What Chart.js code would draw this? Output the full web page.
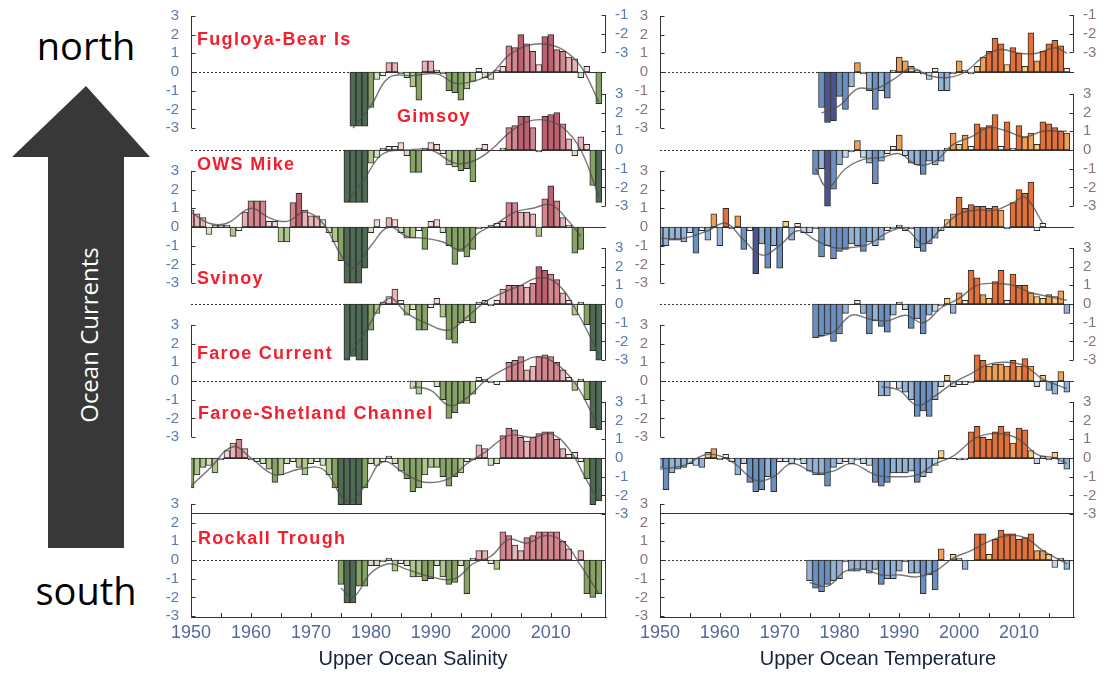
<!DOCTYPE html>
<html>
<head>
<meta charset="utf-8">
<script src="https://cdn.jsdelivr.net/npm/chart.js@4.4.1/dist/chart.umd.min.js"></script>
<style>
  body { margin: 0; background: #fff; width: 1114px; height: 677px; overflow: hidden; position: relative; }
  .abs { position: absolute; }
  #arrow { left: 12px; top: 86px; width: 138px; height: 462px; background: #383838;
    clip-path: polygon(74px 0, 138px 71px, 112px 71px, 112px 462px, 36px 462px, 36px 71px, 0 71px); }
  .big { font-family: 'Open Sans', sans-serif; font-size: 38px; color: #000; width: 172px; text-align: center; left: 0; line-height: 40px; }
  #current { left: 88px; top: 335px; transform: translate(-50%, -50%) rotate(-90deg); color: #fff;
    font-family: 'Open Sans', sans-serif; font-size: 24px; white-space: nowrap; }
  .xtitle { font-family: 'Liberation Sans', Arial, sans-serif; font-size: 20px; color: #16213d; top: 647px;
    transform: translateX(-50%); white-space: nowrap; }
</style>
</head>
<body>
<div class="abs big" style="top:25px">north</div>
<div id="arrow" class="abs"></div>
<div id="current" class="abs">Ocean Currents</div>
<div class="abs big" style="top:570px">south</div>
<canvas id="sal" class="abs" width="480" height="677" style="left:150px;top:0"></canvas>
<canvas id="tmp" class="abs" width="484" height="677" style="left:630px;top:0"></canvas>
<div class="abs xtitle" style="left:413px">Upper Ocean Salinity</div>
<div class="abs xtitle" style="left:878px">Upper Ocean Temperature</div>
<script>
const seriesNames = ['Fugloya-Bear Is', 'Gimsoy', 'OWS Mike', 'Svinoy', 'Faroe Current', 'Faroe-Shetland Channel', 'Rockall Trough'];
const startYears = [1977, 1976, 1950, 1976, 1987, 1950, 1975];
const xTickYears = [1950, 1960, 1970, 1980, 1990, 2000, 2010];
const yTickValues = [3, 2, 1, 0, -1, -2, -3];
const topStubTicks = [-1, -2, -3];

// salinity anomalies, one value per year from startYears
const salFugloya = [-2.9,-2.9,-2.9,-1.9,-0.4,-0.2,0.5,0.5,-0.1,-0.3,-0.8,-1.5,0.6,0.6,0.1,-0.1,-1.0,-1.1,-1.5,-0.9,-0.5,0.2,-0.3,-0.4,0.1,0.3,1.4,1.3,2.0,1.5,1.1,0.4,1.9,2.0,1.2,1.1,0.8,0.7,-0.3,0.3,0.0,-1.7];
const salGimsoy = [-2.8,-2.8,-2.8,-2.8,-0.7,-0.4,0.1,0.2,0.2,0.4,-0.3,-1.2,-1.2,0.1,0.4,0.3,-0.2,-0.8,-0.9,-1.1,-1.0,-1.7,0.1,0.3,0.0,0.0,0.1,1.2,1.3,1.8,1.8,1.2,-0.1,1.8,1.9,2.0,1.4,0.6,-0.3,0.7,0.3,-1.9,-2.8];
const salOWS = [0.9,0.7,0.5,-0.4,0.1,0.1,0.1,-0.5,-0.2,0.8,
  1.4,1.4,1.4,0.3,0.3,-0.8,-0.8,1.3,1.8,0.9,
  0.6,0.6,0.4,-0.3,-0.8,-1.8,-3.0,-3.0,-3.0,-2.2,
  -0.3,0.4,0.0,0.5,0.4,-0.3,-0.6,-0.6,-0.2,-1.2,
  0.3,0.4,-0.3,-1.0,-2.0,-1.3,-1.6,-1.2,-0.1,0.0,
  0.1,0.2,0.3,1.3,1.3,0.8,0.8,0.7,-0.5,1.5,
  2.2,1.4,0.5,0.1,-1.4,-1.2];
const salSvinoy = [-3.0,-2.8,-3.0,-3.0,-1.4,-0.5,0.1,0.4,0.8,0.2,-0.6,-0.3,-1.4,-1.4,-0.2,0.3,-0.7,-1.9,-2.1,-1.0,-0.9,-1.0,0.1,0.2,-0.1,0.2,0.8,1.0,1.0,1.0,0.9,1.1,2.0,1.8,1.6,1.3,0.6,0.2,-0.6,0.1,-1.1,-2.5,-3.0];
const salFaroe = [-0.4,-0.7,0.0,0.0,-0.3,-1.0,-2.0,-1.7,-1.2,-1.2,-0.7,0.2,0.1,-0.1,-0.2,0.0,1.0,1.1,1.3,0.6,0.8,1.3,1.4,1.3,1.0,0.6,0.2,-0.5,0.1,-1.0,-2.5,-2.6];
const salFSC = [-1.6,-0.9,-0.5,-0.4,-0.8,-0.1,0.4,0.8,1.0,0.5,
  -0.1,-0.2,-0.3,-0.6,-1.3,-0.9,-0.3,-0.2,-0.5,-0.9,
  -0.3,-0.2,-0.4,-0.9,-1.6,-2.5,-2.5,-2.5,-2.5,-1.6,
  -0.3,-0.4,-0.2,0.1,-0.3,-0.7,-1.1,-1.8,-1.6,-0.9,
  -0.5,-0.5,-1.0,-1.5,-1.0,-0.8,-0.2,-0.1,0.7,0.5,
  -0.4,-0.3,1.2,1.6,1.5,1.1,0.9,1.1,1.3,1.4,
  1.4,1.0,0.5,0.2,0.3,-0.2,-1.1,-2.5,-2.3];
const salRockall = [-1.3,-2.3,-2.3,-1.4,-1.4,-0.3,-0.3,-0.1,0.1,-0.6,-0.2,-0.3,-0.9,-0.9,-1.1,-1.0,-0.3,-0.9,-1.3,-1.2,-0.3,-1.8,0.1,0.5,0.5,-0.2,-0.5,1.5,1.3,0.8,0.5,1.2,1.3,1.5,1.5,1.5,1.5,1.0,0.6,0.0,0.5,-1.8,-2.0,-1.8];

// temperature anomalies
const tmpFugloya = [-1.9,-2.7,-2.6,-1.3,-2.0,-0.8,0.5,-0.1,-1.0,-2.0,-1.0,-1.4,0.1,0.8,0.6,0.3,0.1,-0.1,-0.4,0.2,-1.0,-1.0,-0.1,0.6,0.1,-0.1,0.3,0.8,1.1,1.8,1.5,0.4,1.3,1.0,0.3,2.1,0.6,1.1,1.5,1.7,1.4,0.2];
const tmpGimsoy = [-1.3,-1.0,-3.0,-2.1,-0.8,-0.4,-0.1,0.5,-0.4,-0.7,-1.8,-0.6,-0.2,0.2,0.8,-0.3,-0.7,-0.8,-1.3,-0.6,-0.8,-0.6,0.1,0.9,0.3,0.8,0.2,1.4,1.2,1.3,1.9,0.2,1.5,0.1,1.3,0.7,0.9,0.3,1.5,1.4,1.2,1.0,0.9];
const tmpOWS = [-1.0,-1.0,-0.7,-0.7,-0.8,-0.3,-1.4,-0.2,-0.7,0.7,
  -1.0,1.0,-0.1,0.6,-1.2,-0.2,-2.5,-0.9,-2.2,-1.0,
  -2.2,0.3,-0.7,0.2,-0.3,-0.3,-0.1,-1.6,-1.0,-1.7,
  -1.3,-1.2,-0.9,-1.0,-1.3,-0.8,-1.0,-0.7,-0.2,-0.1,
  0.1,-0.2,-0.1,-1.1,-1.3,-0.9,-0.6,-0.2,0.4,0.7,
  1.6,1.0,1.2,1.1,1.1,1.0,1.1,0.9,-0.1,1.3,
  2.0,1.8,2.4,-0.2,0.2];
const tmpSvinoy = [-1.8,-1.7,-1.6,-2.0,-1.6,-0.5,0.0,0.2,-0.5,-1.6,-0.9,-1.2,-1.5,-0.6,0.1,-0.3,-1.3,-0.8,-1.6,-0.6,-0.4,-0.1,0.3,-0.5,0.6,0.2,1.8,1.4,0.5,0.3,1.2,1.8,0.2,1.6,1.0,1.0,0.6,0.4,0.3,0.5,0.4,0.7,-0.5];
const tmpFaroe = [-0.8,-0.8,0.0,-0.4,-0.6,-1.0,-1.9,-1.6,-1.9,-1.0,-0.3,0.3,-0.3,-0.2,-0.2,-0.1,1.4,1.1,0.8,0.9,0.9,0.8,1.1,0.8,1.2,0.8,-0.3,0.3,-0.5,-0.7,0.5,-0.6];
const tmpFSC = [-0.5,-1.7,-0.8,-0.6,-0.5,-0.3,-0.4,-0.5,0.3,0.5,
  -0.1,0.2,-0.2,-0.9,-0.3,-1.3,-1.8,-1.7,-1.0,-1.8,
  -0.2,-0.2,-0.3,-0.1,-0.3,-0.7,-0.9,-0.9,-1.5,-0.5,
  -0.3,-0.2,-0.3,-0.1,-0.3,-0.4,-1.3,-1.5,-1.3,-0.8,
  -0.8,-0.8,-0.7,-1.3,-1.0,-0.8,-0.4,0.4,0.0,0.0,
  -0.1,-0.1,1.4,1.7,1.1,1.0,1.4,1.7,1.4,0.8,
  1.6,1.5,0.4,-0.3,0.1,-0.1,0.3,-0.3,-0.6];
const tmpRockall = [-1.1,-1.5,-1.7,-1.3,-1.1,-1.0,-0.1,-0.6,-0.6,-0.5,-0.7,-0.5,-1.3,-1.0,-1.0,-0.6,-0.1,-0.7,-0.7,-1.8,-0.8,-1.6,0.6,0.0,0.3,0.1,-0.5,0.0,1.4,1.4,0.3,1.1,1.6,1.4,1.4,1.1,1.2,1.4,0.5,0.5,0.3,-0.4,0.1,-0.5];

// smoothed curves, [year, value]
const salTrendFugloya = [[1977,-3.0],[1980,-1.8],[1983,-0.3],[1987,-0.2],[1991,-0.1],[1994,-0.6],[1997,-0.5],[2000,-0.1],[2003,0.9],[2006,1.4],[2009,1.5],[2012,1.2],[2015,0.3],[2018,-1.6]];
const salTrendGimsoy = [[1976,-2.8],[1979,-1.5],[1982,-0.2],[1986,0.0],[1990,0.0],[1994,-0.7],[1997,-0.6],[2000,0.0],[2003,0.9],[2006,1.5],[2009,1.6],[2012,1.2],[2015,0.0],[2018,-2.5]];
const salTrendOWS = [[1950,0.8],[1953,0.2],[1956,0.2],[1960,1.0],[1963,0.5],[1966,0.3],[1969,0.8],[1972,0.2],[1975,-1.5],[1977,-2.2],[1980,-1.0],[1983,0.0],[1986,-0.5],[1989,-0.6],[1992,-0.8],[1995,-1.2],[1998,-0.3],[2001,0.2],[2004,0.8],[2007,1.0],[2010,1.2],[2013,0.3],[2015,-0.5]];
const salTrendSvinoy = [[1976,-3.0],[1979,-1.5],[1983,0.3],[1986,-0.5],[1989,-1.0],[1993,-1.4],[1996,-0.7],[1999,0.1],[2002,0.6],[2005,1.0],[2008,1.4],[2011,1.1],[2014,-0.2],[2018,-2.7]];
const salTrendFaroe = [[1987,-0.3],[1990,-0.5],[1993,-1.3],[1996,-0.9],[1999,0.0],[2002,0.6],[2005,1.0],[2008,1.3],[2011,0.9],[2014,-0.1],[2016,-1.2],[2018,-2.6]];
const salTrendFSC = [[1950,-1.5],[1953,-0.6],[1957,0.6],[1960,0.0],[1964,-0.9],[1968,-0.6],[1972,-0.6],[1976,-2.3],[1979,-1.5],[1982,-0.2],[1986,-0.9],[1989,-1.3],[1993,-1.1],[1996,-0.3],[1999,0.3],[2003,1.2],[2007,1.1],[2010,1.3],[2013,0.5],[2016,-1.2],[2018,-2.3]];
const salTrendRockall = [[1975,-1.5],[1977,-2.0],[1980,-0.7],[1983,-0.2],[1986,-0.5],[1990,-0.9],[1994,-1.0],[1997,-0.2],[2000,0.2],[2003,1.1],[2006,0.9],[2009,1.3],[2012,1.0],[2015,-0.3],[2018,-1.8]];

const tmpTrendFugloya = [[1977,-2.2],[1980,-1.8],[1983,-0.9],[1986,-0.9],[1989,-0.4],[1992,0.2],[1995,-0.2],[1998,-0.3],[2001,0.0],[2004,0.8],[2007,1.2],[2010,1.0],[2013,1.0],[2016,1.3],[2018,1.0]];
const tmpTrendGimsoy = [[1976,-1.0],[1978,-2.0],[1981,-1.0],[1984,-0.5],[1987,-0.4],[1990,-0.2],[1993,-0.8],[1996,-0.6],[1999,0.3],[2002,0.7],[2005,1.2],[2008,1.0],[2011,0.7],[2014,1.0],[2018,1.0]];
const tmpTrendOWS = [[1950,-0.6],[1954,-0.6],[1958,-0.2],[1961,0.2],[1964,-0.7],[1967,-1.5],[1970,-1.0],[1973,-0.2],[1976,-0.7],[1979,-1.1],[1982,-1.1],[1985,-0.9],[1988,-0.3],[1991,-0.1],[1994,-0.9],[1997,-0.1],[2000,0.7],[2003,0.9],[2006,0.9],[2009,1.3],[2011,1.6],[2014,0.2]];
const tmpTrendSvinoy = [[1976,-1.8],[1979,-1.5],[1982,-0.6],[1985,-0.8],[1988,-0.9],[1991,-0.6],[1994,-1.0],[1997,-0.2],[2000,0.3],[2003,1.0],[2006,1.1],[2009,1.0],[2012,0.6],[2015,0.4],[2018,0.2]];
const tmpTrendFaroe = [[1987,-0.3],[1990,-0.5],[1993,-1.3],[1996,-0.8],[1999,-0.1],[2002,0.4],[2005,0.9],[2008,1.0],[2011,0.8],[2014,0.1],[2018,-0.4]];
const tmpTrendFSC = [[1950,-0.6],[1954,-0.4],[1958,0.2],[1962,-0.2],[1966,-1.2],[1969,-1.0],[1972,-0.3],[1976,-0.8],[1979,-0.7],[1982,-0.3],[1986,-0.9],[1989,-1.0],[1993,-0.9],[1996,-0.3],[1999,0.1],[2003,1.1],[2007,1.3],[2010,1.0],[2013,0.2],[2016,0.0],[2018,-0.3]];
const tmpTrendRockall = [[1975,-1.2],[1978,-1.4],[1981,-0.6],[1984,-0.5],[1987,-0.8],[1990,-0.8],[1993,-0.9],[1996,-0.6],[1999,0.1],[2002,0.5],[2005,1.0],[2008,1.3],[2011,1.2],[2014,0.5],[2018,-0.2]];

const salSeries = [salFugloya, salGimsoy, salOWS, salSvinoy, salFaroe, salFSC, salRockall];
const salTrends = [salTrendFugloya, salTrendGimsoy, salTrendOWS, salTrendSvinoy, salTrendFaroe, salTrendFSC, salTrendRockall];
const tmpSeries = [tmpFugloya, tmpGimsoy, tmpOWS, tmpSvinoy, tmpFaroe, tmpFSC, tmpRockall];
const tmpTrends = [tmpTrendFugloya, tmpTrendGimsoy, tmpTrendOWS, tmpTrendSvinoy, tmpTrendFaroe, tmpTrendFSC, tmpTrendRockall];

// layout
const AREA_TOP = 4, AREA_BOTTOM = 617;
const PX_PER_UNIT = 18.7;
const ZERO_Y = [72, 150, 227, 304, 381, 458, 560];
const STUB_ZERO_Y = -3.7;
const AXIS_SIDE = ['left', 'right', 'left', 'right', 'left', 'right', 'left'];
const NAME_POS = [[47, 40], [247, 117], [47, 165], [47, 279], [47, 354], [48, 414], [48, 539]];

function salColor(v) {
  if (v >= 1.8) return '#bd5f6e';
  if (v >= 1.0) return '#d4868f';
  if (v >= 0.45) return '#e9b2b6';
  if (v >= 0.25) return '#f6d6d6';
  if (v >= 0) return '#fbeeee';
  if (v > -0.25) return '#eef4e6';
  if (v > -0.45) return '#d3e2bf';
  if (v > -1.0) return '#afc68e';
  if (v > -2.2) return '#86a265';
  return '#4f6b55';
}
function tmpColor(v) {
  if (v >= 1.0) return '#e2703a';
  if (v >= 0.5) return '#f29f55';
  if (v >= 0.25) return '#f8cf85';
  if (v >= 0) return '#fdf0d6';
  if (v > -0.25) return '#e6eef8';
  if (v > -0.5) return '#c4d7ec';
  if (v > -1.2) return '#93b3d8';
  if (v > -2.3) return '#6a8fc2';
  return '#4b5491';
}

function yScale(zeroY, side, ticks, color) {
  return {
    type: 'linear', axis: 'y', position: side,
    min: (zeroY - AREA_BOTTOM) / PX_PER_UNIT,
    max: (zeroY - AREA_TOP) / PX_PER_UNIT,
    grid: { display: false, drawTicks: false },
    border: { display: false },
    afterBuildTicks: s => { s.ticks = ticks.map(v => ({ value: v })); },
    afterFit: s => { s.width = 0; s.paddingTop = 0; s.paddingBottom = 0; },
    ticks: { autoSkip: false, padding: side === 'left' ? 12 : 9, color: color,
      font: { family: 'Liberation Sans', size: 15 }, callback: v => String(v) }
  };
}

function line(ctx, x1, y1, x2, y2) {
  ctx.beginPath(); ctx.moveTo(x1, y1); ctx.lineTo(x2, y2); ctx.stroke();
}

function makeFrame(withNames) {
  return {
    id: 'frame',
    // the y axes take no room in the layout; widen them afterwards so their labels are not clipped
    afterLayout(chart) {
      Object.values(chart.scales).forEach(s => {
        if (s.axis !== 'y') return;
        if (s.position === 'left') s.left = s.right - 40;
        else s.right = s.left + 40;
      });
    },
    beforeDatasetsDraw(chart) {
      const { ctx, chartArea: a } = chart;
      const x = chart.scales.x;
      ctx.save();
      ctx.strokeStyle = '#333'; ctx.lineWidth = 1;
      startYears.forEach((start, i) => {
        const y = Math.round(chart.scales['s' + i].getPixelForValue(0)) + 0.5;
        const xs = Math.max(a.left, x.getPixelForValue(start - 0.5));
        ctx.setLineDash([2, 2]); line(ctx, a.left, y, xs, y);
        ctx.setLineDash([]); line(ctx, xs, y, a.right, y);
      });
      ctx.restore();
    },
    afterDatasetsDraw(chart) {
      const { ctx, chartArea: a } = chart;
      const x = chart.scales.x;
      ctx.save();
      ctx.strokeStyle = '#333'; ctx.lineWidth = 1;
      const bracket = (s, side, ticks) => {
        const xb = side === 'left' ? Math.round(a.left) + 0.5 : Math.round(a.right) - 0.5;
        const dir = side === 'left' ? 1 : -1;
        line(ctx, xb, s.getPixelForValue(ticks[0]), xb, s.getPixelForValue(ticks[ticks.length - 1]));
        ticks.forEach(v => { const y = Math.round(s.getPixelForValue(v)) + 0.5; line(ctx, xb, y, xb + dir * 4, y); });
      };
      AXIS_SIDE.forEach((side, i) => bracket(chart.scales['s' + i], side, yTickValues));
      bracket(chart.scales.sTop, 'right', topStubTicks);
      // box round the last series
      const r = chart.scales.s6;
      const yTop = Math.round(r.getPixelForValue(2.5)) + 0.5;
      line(ctx, a.left, yTop, a.right, yTop);
      line(ctx, Math.round(a.right) - 0.5, yTop, Math.round(a.right) - 0.5, a.bottom);
      line(ctx, Math.round(a.left) + 0.5, yTop, Math.round(a.left) + 0.5, a.bottom);
      for (let yr = 1955; yr < 2019; yr += 5) {
        const px = Math.round(x.getPixelForValue(yr)) + 0.5;
        line(ctx, px, a.bottom, px, a.bottom - 4);
      }
      if (withNames) {
        ctx.fillStyle = '#f41e2c';
        ctx.font = 'bold 18px "Liberation Sans", Arial, sans-serif';
        ctx.letterSpacing = '1.3px';
        ctx.textBaseline = 'middle';
        seriesNames.forEach((n, i) => ctx.fillText(n, NAME_POS[i][0], NAME_POS[i][1]));
      }
      ctx.restore();
    }
  };
}

function buildChart(id, series, trends, colorFn, tickColor, padLeft, padRight, withNames) {
  const scales = {
    x: {
      type: 'linear', min: 1950, max: 2019.2, offset: false,
      grid: { display: false, drawTicks: false },
      border: { display: true, color: '#333', width: 1 },
      afterBuildTicks: s => { s.ticks = xTickYears.map(v => ({ value: v })); },
      afterFit: s => { s.height = 677 - AREA_BOTTOM; s.paddingLeft = 0; s.paddingRight = 0; },
      ticks: { autoSkip: false, maxRotation: 0, padding: 5, color: '#56679a',
        font: { family: 'Liberation Sans', size: 18 }, callback: v => String(v) }
    },
    sTop: yScale(STUB_ZERO_Y, 'right', topStubTicks, tickColor)
  };
  const datasets = [];
  series.forEach((vals, i) => {
    scales['s' + i] = yScale(ZERO_Y[i], AXIS_SIDE[i], yTickValues, tickColor);
    datasets.push({
      type: 'bar', xAxisID: 'x', yAxisID: 's' + i, order: 2,
      data: vals.map((v, k) => ({ x: startYears[i] + k, y: v })),
      grouped: false, barPercentage: 1, categoryPercentage: 1,
      backgroundColor: c => colorFn(c.parsed ? c.parsed.y : 0),
      borderColor: '#2b2b2b', borderWidth: 1, borderSkipped: false
    });
    datasets.push({
      type: 'line', xAxisID: 'x', yAxisID: 's' + i, order: 0,
      data: trends[i].map(p => ({ x: p[0], y: p[1] })),
      borderColor: 'rgba(75,75,75,0.75)', borderWidth: 1.4, pointRadius: 0, tension: 0.4, fill: false
    });
  });
  return new Chart(document.getElementById(id), {
    type: 'bar',
    data: { datasets: datasets },
    options: {
      responsive: false, animation: false, devicePixelRatio: 1,
      layout: { padding: { left: padLeft, right: padRight, top: AREA_TOP, bottom: 0 } },
      plugins: { legend: { display: false }, tooltip: { enabled: false } },
      scales: scales
    },
    plugins: [makeFrame(withNames)]
  });
}

buildChart('sal', salSeries, salTrends, salColor, '#5a7bb0', 41, 24, true);
buildChart('tmp', tmpSeries, tmpTrends, tmpColor, '#8f7184', 30, 40, false);
</script>
</body>
</html>
